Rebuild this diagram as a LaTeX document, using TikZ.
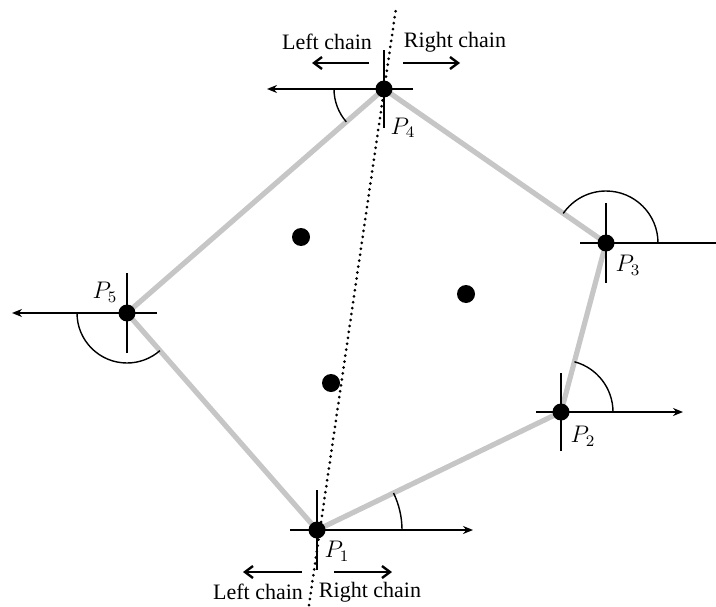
\documentclass[tikz,border=0pt]{standalone}
\usepackage{fontspec}
\setmainfont{Liberation Serif}
\usetikzlibrary{arrows.meta}

\begin{document}
\begin{tikzpicture}[x=0.5pt,y=0.5pt,
  hull/.style={line width=2.6pt, gray!45},
  axis/.style={line width=1.1pt},
  angle/.style={line width=0.7pt},
  split/.style={line width=1.5pt, line cap=round, dash pattern=on 0pt off 3pt},
  chainarrow/.style={line width=1.2pt, -{Straight Barb[length=4pt,width=6pt]}},
  vertex/.style={circle, fill=black, inner sep=0pt, minimum size=8.5pt},
  inner/.style={circle, fill=black, inner sep=0pt, minimum size=9pt},
  lbl/.style={font=\fontsize{11}{13}\selectfont, inner sep=1pt},
  plbl/.style={font=\fontsize{12}{14}\selectfont, inner sep=1pt}]
  \useasboundingbox (0,0) rectangle (716,606);

  % hull vertices
  \coordinate (p1) at (317,76);
  \coordinate (p2) at (561,194);
  \coordinate (p3) at (606,363);
  \coordinate (p4) at (384,517);
  \coordinate (p5) at (127,293);

  % convex hull
  \draw[hull] (p1) -- (p2) -- (p3) -- (p4) -- (p5) -- cycle;

  % splitting line
  \coordinate (sbot) at (309,1);
  \coordinate (stop) at (396,598);
  \draw[split] (sbot) -- (stop);

  % crosses at vertices
  \draw[axis, -{Stealth[length=5pt,width=4pt]}] (p1) ++(-27,0) -- ++(183,0);
  \draw[axis] (p1) ++(0,-40) -- ++(0,80);
  \draw[axis, -{Stealth[length=5pt,width=4pt]}] (p2) ++(-25,0) -- ++(147,0);
  \draw[axis] (p2) ++(0,-39) -- ++(0,78);
  \draw[axis] (p3) ++(-26,0) -- ++(136,0);
  \draw[axis] (p3) ++(0,-40) -- ++(0,80);
  \draw[axis, -{Stealth[length=5pt,width=4pt]}] (p4) ++(29,0) -- ++(-146,0);
  \draw[axis] (p4) ++(0,-39) -- ++(0,78);
  \draw[axis, -{Stealth[length=5pt,width=4pt]}] (p5) ++(30,0) -- ++(-145,0);
  \draw[axis] (p5) ++(0,-40) -- ++(0,80);

  % polar angles
  \draw[angle] (p1) ++(0:85) arc[start angle=0, end angle=25.8, radius=85];
  \draw[angle] (p2) ++(0:52) arc[start angle=0, end angle=75, radius=52];
  \draw[angle] (p3) ++(0:52) arc[start angle=0, end angle=145.3, radius=52];
  \draw[angle] (p4) ++(180:50) arc[start angle=180, end angle=221.1, radius=50];
  \draw[angle] (p5) ++(180:50) arc[start angle=180, end angle=311.2, radius=50];

  % points
  \foreach \p in {p1,p2,p3,p4,p5}
    \node[vertex] (\p dot) at (\p) {};
  \foreach \q/\pos in {qa/{(301,369)}, qb/{(466,312)}, qc/{(331,223)}}
    \node[inner] (\q) at \pos {};

  % vertex labels
  \node[plbl] (l1) at (337,55) {$P_1$};
  \node[plbl] (l2) at (583,170) {$P_2$};
  \node[plbl] (l3) at (628,341) {$P_3$};
  \node[plbl] (l4) at (403,478) {$P_4$};
  \node[plbl] (l5) at (105,314) {$P_5$};

  % chains
  \node[lbl] (ltop) at (327,564) {Left chain};
  \node[lbl] (rtop) at (455,564) {Right chain};
  \draw[chainarrow] (369,543) -- (312,543);
  \draw[chainarrow] (403,543) -- (460,543);
  \node[lbl] (lbot) at (258,14) {Left chain};
  \node[lbl] (rbot) at (370,14) {Right chain};
  \draw[chainarrow] (302,34) -- (243,34);
  \draw[chainarrow] (334,34) -- (392,34);
\end{tikzpicture}
\end{document}
